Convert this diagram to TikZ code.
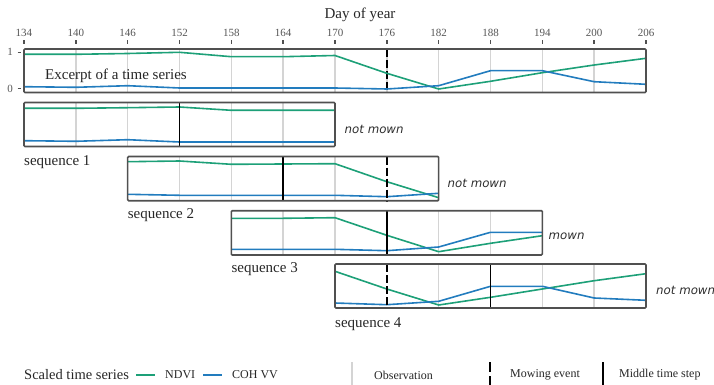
\documentclass[tikz,border=0pt]{standalone}
\usepackage{fontspec}
\setmainfont{Liberation Serif}
\newfontfamily\mowfont{DejaVu Sans}
\definecolor{ndvicol}{HTML}{1DA078}
\definecolor{cohcol}{HTML}{227CBE}
\definecolor{boxgray}{HTML}{505050}
\definecolor{gridgray}{HTML}{D4D4D4}
\definecolor{ticklab}{HTML}{555555}
\definecolor{mowtext}{HTML}{2E2E2E}
\begin{document}
\begin{tikzpicture}[x=1pt,y=-1pt,
  panelbox/.style={draw=boxgray,line width=1.6pt,rounded corners=1pt},
  gridline/.style={draw=gridgray,line width=1.5pt},
  ndviline/.style={draw=ndvicol,line width=1.6pt,line join=round},
  cohline/.style={draw=cohcol,line width=1.6pt,line join=round},
  mowline/.style={draw=black,line width=1.8pt,dash pattern=on 8pt off 3pt},
  midline/.style={draw=black,line width=1.8pt},
  tickmark/.style={draw=boxgray,line width=1.5pt},
  ticklabel/.style={text=ticklab,font=\fontsize{11}{13}\selectfont,inner sep=0pt},
  titletext/.style={text=black!85,font=\fontsize{15}{18}\selectfont,inner sep=0pt},
  seqlabel/.style={text=black!85,font=\fontsize{15}{18}\selectfont,inner sep=0pt,anchor=west},
  mowlabel/.style={text=mowtext,font=\mowfont\itshape\fontsize{11.8}{14}\selectfont,inner sep=0pt,anchor=west},
  legtitle/.style={text=black!85,font=\fontsize{14.5}{17}\selectfont,inner sep=0pt,anchor=west},
  leglabel/.style={text=black!85,font=\fontsize{12}{14}\selectfont,inner sep=0pt,anchor=west}
]
\useasboundingbox (0,0) rectangle (714,385);

% ---------- axis title and ticks ----------
\node[titletext] (daytitle) at (360,15) {Day of year};
\foreach \d [count=\i from 0] in {134,140,146,152,158,164,170,176,182,188,194,200,206}{
  \node[ticklabel] (tick\d) at ({24+\i*51.8333},33) {\d};
  \draw[tickmark] ({24+\i*51.8333},40.5) -- ++(0,3.5);
}
\node[ticklabel] (yone) at (10,52.3) {1};
\node[ticklabel] (yzero) at (10,88.7) {0};
\draw[tickmark] (17.5,52.3) -- (21,52.3);
\draw[tickmark] (17.5,88.7) -- (21,88.7);

% ---------- top panel ----------
\foreach \i in {1,...,11}{ \draw[gridline] ({24+\i*51.8333},49) -- ({24+\i*51.8333},92.5); }
\draw[mowline] (386.83,49) -- (386.83,92.5);
\draw[ndviline] (24,54.3) -- (75.83,54.3) -- (127.67,53.5) -- (179.5,52.3) -- (231.33,56.7) -- (283.17,56.7) -- (335,55.5) -- (386.83,73.3) -- (438.67,89) -- (490.5,81.3) -- (542.33,72.7) -- (594.17,65) -- (646,58.3);
\draw[cohline] (24,86.7) -- (75.83,87.3) -- (127.67,85.7) -- (179.5,88) -- (231.33,88) -- (283.17,88) -- (335,88) -- (386.83,89) -- (438.67,85.7) -- (490.5,70.7) -- (542.33,70.7) -- (594.17,81.7) -- (646,84.3);
\draw[panelbox] (24,49) rectangle (646,92.5);
\node[titletext,anchor=west] (excerpt) at (45,75.5) {Excerpt of a time series};

% ---------- sequence 1 (134-170) ----------
\foreach \x in {75.83,127.67,231.33,283.17}{ \draw[gridline] (\x,102.5) -- (\x,146.5); }
\draw[ndviline] (24,108.3) -- (75.83,108.3) -- (127.67,107.7) -- (179.5,107) -- (231.33,110.3) -- (283.17,110.3) -- (335,110.3);
\draw[cohline] (24,140.7) -- (75.83,141.3) -- (127.67,139.7) -- (179.5,142) -- (231.33,142) -- (283.17,142) -- (335,142);
\draw[midline] (179.5,102.5) -- (179.5,146.5);
\draw[panelbox] (24,102.5) rectangle (335,146.5);
\node[seqlabel] (seq1) at (24,161.7) {sequence 1};
\node[mowlabel] (res1) at (344.5,129) {not mown};

% ---------- sequence 2 (146-182) ----------
\foreach \x in {179.5,231.33,335}{ \draw[gridline] (\x,156.5) -- (\x,200.7); }
\draw[ndviline] (127.67,161.7) -- (179.5,161) -- (231.33,164.3) -- (283.17,164) -- (335,163.7) -- (386.83,181.7) -- (438.67,197.7);
\draw[cohline] (127.67,194.3) -- (179.5,195.3) -- (231.33,195.3) -- (283.17,195.3) -- (335,195.3) -- (386.83,196.7) -- (438.67,193.3);
\draw[mowline] (386.83,156.5) -- (386.83,200.7);
\draw[midline] (283.17,156.5) -- (283.17,200.7);
\draw[panelbox] (127.67,156.5) rectangle (438.67,200.7);
\node[seqlabel] (seq2) at (127.67,215) {sequence 2};
\node[mowlabel] (res2) at (447.5,183.3) {not mown};

% ---------- sequence 3 (158-194) ----------
\foreach \x in {283.17,335,438.67,490.5}{ \draw[gridline] (\x,210.7) -- (\x,255); }
\draw[ndviline] (231.33,218.3) -- (283.17,218.3) -- (335,217.7) -- (386.83,235.3) -- (438.67,251.7) -- (490.5,243.3) -- (542.33,235.7);
\draw[cohline] (231.33,249.3) -- (283.17,249.3) -- (335,249.3) -- (386.83,250.7) -- (438.67,247) -- (490.5,232.3) -- (542.33,232.3);
\draw[mowline] (386.83,210.7) -- (386.83,255);
\draw[midline] (386.83,210.7) -- (386.83,255);
\draw[panelbox] (231.33,210.7) rectangle (542.33,255);
\node[seqlabel] (seq3) at (231.33,269.5) {sequence 3};
\node[mowlabel] (res3) at (548.5,236.7) {mown};

% ---------- sequence 4 (170-206) ----------
\foreach \x in {438.67,542.33,594.17}{ \draw[gridline] (\x,264) -- (\x,308); }
\draw[ndviline] (335,271.3) -- (386.83,289) -- (438.67,305) -- (490.5,297.3) -- (542.33,289) -- (594.17,280.7) -- (646,273.7);
\draw[cohline] (335,303) -- (386.83,304.7) -- (438.67,301.3) -- (490.5,286.3) -- (542.33,286.3) -- (594.17,298) -- (646,300.3);
\draw[mowline] (386.83,264) -- (386.83,308);
\draw[midline] (490.5,264) -- (490.5,308);
\draw[panelbox] (335,264) rectangle (646,308);
\node[seqlabel] (seq4) at (335,324.5) {sequence 4};
\node[mowlabel] (res4) at (656,290.7) {not mown};

% ---------- legend ----------
\node[legtitle] (legtitle) at (24,375) {Scaled time series};
\draw[ndviline] (136,375) -- (155,375);
\node[leglabel] (legndvi) at (165,375) {NDVI};
\draw[cohline] (203,375) -- (222,375);
\node[leglabel] (legcoh) at (232,375) {COH VV};
\draw[gridline] (352,362) -- (352,385);
\node[leglabel] (legobs) at (374,375) {Observation};
\draw[mowline,dash pattern=on 10pt off 4pt] (490,362) -- (490,385);
\node[leglabel] (legmow) at (510,375) {Mowing event};
\draw[midline] (603,362) -- (603,385);
\node[leglabel] (legmid) at (619,375) {Middle time step};
\end{tikzpicture}
\end{document}
